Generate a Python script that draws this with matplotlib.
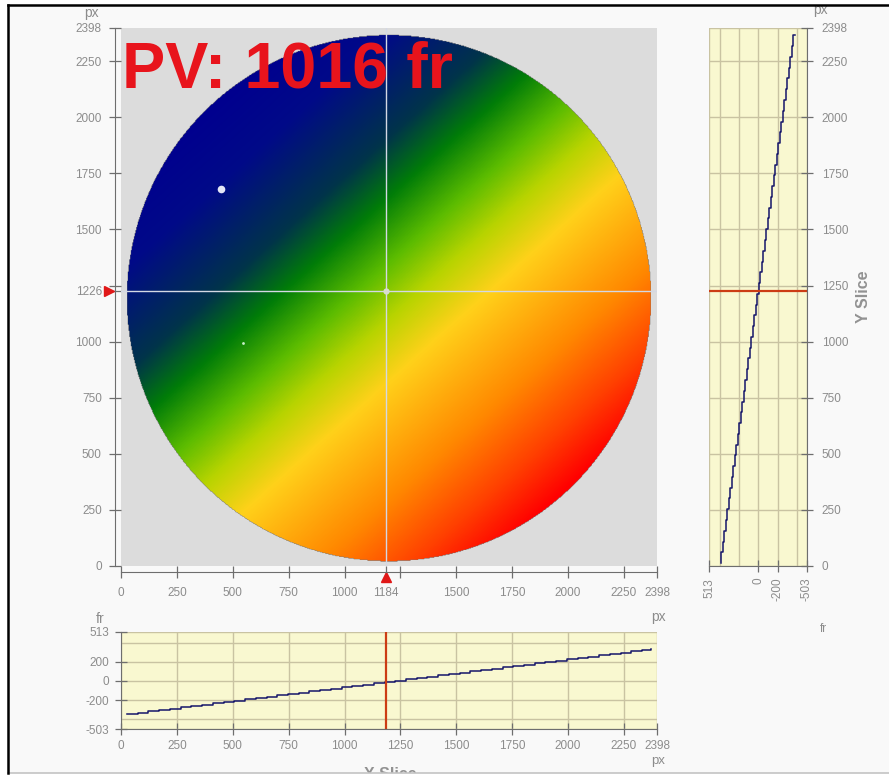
import numpy as np
import matplotlib
matplotlib.use("Agg")
import matplotlib.pyplot as plt
from matplotlib import transforms
from matplotlib.colors import LinearSegmentedColormap
from matplotlib.lines import Line2D
from matplotlib.patches import Rectangle

plt.rcParams['font.family'] = ['Liberation Sans', 'DejaVu Sans']
plt.rcParams['axes.unicode_minus'] = False

# --- data ---
x_cut = 1184          # px, crosshair column
y_cut = 1226          # px, crosshair row
pv = 1016
fr_min, fr_max = -503, 513
px_max = 2398

# pupil (circle)
pupil_cx, pupil_cy, pupil_r = 1199, 1194, 1174

# X slice (row y_cut): position px -> fr
xslice_pos = [27, 75, 123, 171, 219, 267, 315, 363, 411, 459, 507, 555, 603, 651, 699,
              747, 795, 843, 891, 939, 987, 1035, 1083, 1131, 1179, 1227, 1275, 1323,
              1371, 1419, 1467, 1515, 1563, 1611, 1659, 1707, 1755, 1803, 1851, 1899,
              1947, 1995, 2043, 2091, 2139, 2187, 2235, 2283, 2331, 2371]
xslice_val = [-345, -331, -317, -303, -289, -275, -261, -248, -234, -220, -206, -192,
              -178, -164, -150, -136, -122, -108, -94, -80, -66, -53, -39, -25, -11, 3,
              17, 31, 45, 59, 73, 87, 100, 114, 128, 142, 156, 170, 184, 198, 212, 226,
              240, 254, 268, 281, 295, 309, 323, 335]

# Y slice (column x_cut): position px -> fr
yslice_pos = [13, 61, 109, 157, 205, 253, 301, 349, 397, 445, 493, 541, 589, 637, 685,
              733, 781, 829, 877, 925, 973, 1021, 1069, 1117, 1165, 1213, 1261, 1309,
              1357, 1405, 1453, 1501, 1549, 1597, 1645, 1693, 1741, 1789, 1837, 1885,
              1933, 1981, 2029, 2077, 2125, 2173, 2221, 2269, 2317, 2365]
yslice_val = [387, 371, 356, 340, 325, 309, 293, 278, 262, 247, 231, 216, 200, 184, 169,
              153, 138, 122, 106, 91, 75, 60, 44, 28, 13, -3, -18, -34, -49, -65, -81,
              -96, -112, -127, -143, -158, -174, -190, -205, -221, -236, -252, -268, -283,
              -299, -314, -330, -345, -361, -377]

# spots seen on the map
spots_x = [448, 547]
spots_y = [1682, 993]

px_ticks = [0, 250, 500, 750, 1000, 1250, 1500, 1750, 2000, 2250, 2398]
fr_ticks_bot = [513, 200, 0, -200, -503]
fr_ticks_right = [513, 0, -200, -503]
fr_grid = [400, 200, 0, -200, -400]

# --- style ---
GRAY_TXT = '#8c8c8c'
SPINE = '#6e6e6e'
YELLOW = '#f9f8d0'
GRID = '#c9c3a2'
RED = '#e01818'
CUT = '#cc3c14'
LINE = '#15156a'

wave = LinearSegmentedColormap.from_list('wave', [
    (0.00, '#00008f'), (0.12, '#000a88'), (0.27, '#00344a'), (0.355, '#007c08'),
    (0.45, '#5cbc00'), (0.53, '#b8d400'), (0.62, '#ffd11a'), (0.79, '#ff8800'),
    (0.91, '#ff4000'), (1.00, '#ff0000')])
wave.set_bad((0, 0, 0, 0))

W, H = 889, 776
fig = plt.figure(figsize=(W / 100, H / 100), dpi=100)
fig.patch.set_facecolor('#f9f9f9')


def box(x0, y0, x1, y1):
    return [x0 / W, 1 - y1 / H, (x1 - x0) / W, (y1 - y0) / H]


def tick_style(ax, pad_x, pad_y):
    ax.tick_params(axis='both', which='major', direction='inout', length=9, width=0.9,
                   color=SPINE, labelcolor=GRAY_TXT, labelsize=8.5)
    ax.tick_params(axis='x', pad=pad_x)
    ax.tick_params(axis='y', pad=pad_y)
    ax.tick_params(which='minor', length=0)


# --- main map ---
ax = fig.add_axes(box(121, 28, 657, 566))
ax.set_facecolor('#dcdcdc')
grid_px = np.linspace(0, px_max, 700)
gx, gy = np.meshgrid(grid_px, grid_px)
zx = np.interp(grid_px, xslice_pos, xslice_val)
zy = np.interp(grid_px, yslice_pos, yslice_val)
z = zx[None, :] + zy[:, None] - np.interp(y_cut, yslice_pos, yslice_val)
z = np.ma.masked_where((gx - pupil_cx) ** 2 + (gy - pupil_cy) ** 2 > pupil_r ** 2, z)
ax.imshow(z, extent=[0, px_max, 0, px_max], origin='lower', cmap=wave,
          vmin=fr_min, vmax=fr_max, aspect='auto', interpolation='bilinear')
ax.set_xlim(0, px_max)
ax.set_ylim(0, px_max)
ax.axvline(x_cut, color='#d4d8e4', lw=1)
ax.axhline(y_cut, color='#d4d8e4', lw=1)
ax.plot(spots_x[0], spots_y[0], 'o', ms=5.5, color='#e4e6f6', mec='none')
ax.plot(spots_x[1], spots_y[1], 'o', ms=2, color='#c8f0c8', mec='none')
ax.plot(x_cut, y_cut, 'o', ms=4.5, color='#d8dcd0', mec='none')

xt = sorted(px_ticks + [x_cut])
ax.set_xticks(xt)
ax.set_xticklabels(['' if t == 1250 else str(t) for t in xt])
yt = sorted(px_ticks + [y_cut])
ax.set_yticks(yt)
ax.set_yticklabels(['' if t == 1250 else str(t) for t in yt])
for s in ['top', 'right']:
    ax.spines[s].set_visible(False)
for s in ['left', 'bottom']:
    ax.spines[s].set_position(('outward', 4.3))
    ax.spines[s].set_color(SPINE)
tick_style(ax, 6.5, 5)

tr_y = transforms.blended_transform_factory(ax.transAxes, ax.transData)
tr_x = transforms.blended_transform_factory(ax.transData, ax.transAxes)
ax.plot(-0.023, y_cut, '>', ms=7, color=RED, transform=tr_y, clip_on=False)
ax.plot(x_cut, -0.021, '^', ms=7.5, color=RED, transform=tr_x, clip_on=False)

fig.text(122 / W, 1 - 88 / H, f'PV: {pv} fr', fontsize=46.5, fontweight='bold',
         color='#e8141c', va='baseline', ha='left')

# --- Y slice (right) ---
axr = fig.add_axes(box(709, 28, 807, 566))
axr.set_facecolor(YELLOW)
axr.plot(yslice_val, yslice_pos, color=LINE, lw=1.1, drawstyle='steps-pre')
axr.axhline(y_cut, color=CUT, lw=1.6)
axr.set_xlim(fr_max, fr_min)
axr.set_ylim(0, px_max)
axr.set_xticks(fr_ticks_right)
axr.set_xticklabels([str(t) for t in fr_ticks_right], rotation=90)
axr.set_xticks([g for g in fr_grid if g not in fr_ticks_right], minor=True)
axr.set_yticks(px_ticks)
axr.yaxis.tick_right()
axr.grid(True, which='both', color=GRID, lw=1)
axr.set_axisbelow(True)
for s in ['top', 'left']:
    axr.spines[s].set_visible(False)
for s in ['right', 'bottom']:
    axr.spines[s].set_color(SPINE)
tick_style(axr, 4, 6)

# --- X slice (bottom) ---
axb = fig.add_axes(box(121, 632, 657, 729))
axb.set_facecolor(YELLOW)
axb.plot(xslice_pos, xslice_val, color=LINE, lw=1.1, drawstyle='steps-post')
axb.axvline(x_cut, color=CUT, lw=1.6)
axb.set_xlim(0, px_max)
axb.set_ylim(fr_min, fr_max)
axb.set_xticks(px_ticks)
axb.set_yticks(fr_ticks_bot)
axb.set_yticks([g for g in fr_grid if g not in fr_ticks_bot], minor=True)
axb.grid(True, which='both', color=GRID, lw=1)
axb.set_axisbelow(True)
for s in ['top', 'right']:
    axb.spines[s].set_visible(False)
for s in ['left', 'bottom']:
    axb.spines[s].set_color(SPINE)
tick_style(axb, 3.5, 4)

# --- unit and slice labels ---
unit_kw = dict(color=GRAY_TXT, fontsize=10, ha='center', va='center')
fig.text(91 / W, 1 - 13 / H, 'px', **unit_kw)
fig.text(820 / W, 1 - 10 / H, 'px', **unit_kw)
fig.text(658 / W, 1 - 617 / H, 'px', **unit_kw)
fig.text(658 / W, 1 - 761 / H, 'px', color=GRAY_TXT, fontsize=9.5, ha='center',
         va='center')
fig.text(100 / W, 1 - 619 / H, 'fr', **unit_kw)
fig.text(823 / W, 1 - 629 / H, 'fr', color=GRAY_TXT, fontsize=8.5, ha='center',
         va='center')
fig.text(863 / W, 1 - 297 / H, 'Y Slice', rotation=90, fontsize=11.5, fontweight='bold',
         color='#929292', ha='center', va='center')
fig.text(390 / W, 1 - 767 / H, 'X Slice', fontsize=11.5, fontweight='bold',
         color='#929292', ha='center', va='top')

# --- window frame ---
fig.add_artist(Rectangle((0, 0), 1, 3 / H, transform=fig.transFigure,
                         facecolor='#ffffff', edgecolor='none', zorder=20))
fig.add_artist(Line2D([8 / W, 1], [1 - 773 / H] * 2, color='#c4c4c4', lw=1.2, zorder=21))
fig.add_artist(Rectangle((0, 0), 7 / W, 1, transform=fig.transFigure,
                         facecolor='#ffffff', edgecolor='none', zorder=20))
fig.add_artist(Rectangle((0, 1 - 4 / H), 1, 4 / H, transform=fig.transFigure,
                         facecolor='#ffffff', edgecolor='none', zorder=20))
fig.add_artist(Line2D([8 / W, 1], [1 - 5 / H] * 2, color='#000000', lw=1.8, zorder=21))
fig.add_artist(Line2D([8 / W, 8 / W], [1 - 5 / H, 1 - 773 / H], color='#000000', lw=1.8,
                      zorder=21))

fig.savefig('out.png', dpi=100, facecolor=fig.get_facecolor())
